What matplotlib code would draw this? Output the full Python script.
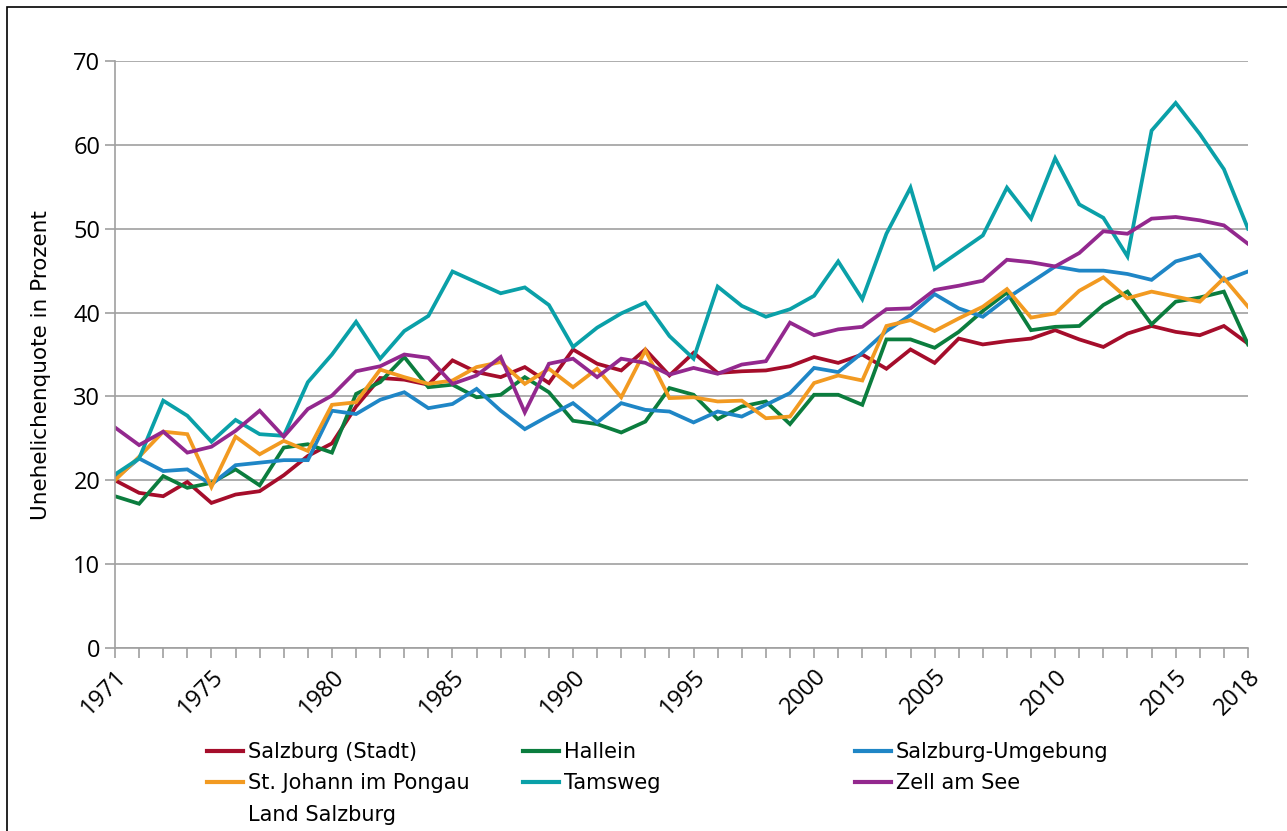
import numpy as np
import matplotlib
matplotlib.use('Agg')
import matplotlib.pyplot as plt
from matplotlib.lines import Line2D
from matplotlib.patches import Rectangle

### data
years = np.arange(1971, 2019)
tick_years = [1971, 1975, 1980, 1985, 1990, 1995, 2000, 2005, 2010, 2015, 2018]

salzburg_stadt = [20.0, 18.5, 18.1, 19.8, 17.3, 18.3, 18.7, 20.6, 22.9, 24.4,
                  28.8, 32.2, 32.0, 31.4, 34.3, 32.9, 32.3, 33.5, 31.6, 35.6,
                  33.9, 33.1, 35.6, 32.5, 35.2, 32.8, 33.0, 33.1, 33.6, 34.7,
                  34.0, 35.0, 33.3, 35.6, 34.0, 36.9, 36.2, 36.6, 36.9, 37.9,
                  36.8, 35.9, 37.5, 38.4, 37.7, 37.3, 38.4, 36.3]
hallein = [18.1, 17.2, 20.5, 19.1, 19.7, 21.3, 19.4, 23.9, 24.3, 23.3,
           30.3, 31.7, 34.7, 31.1, 31.4, 29.9, 30.2, 32.3, 30.5, 27.1,
           26.7, 25.7, 27.0, 31.0, 30.2, 27.3, 28.8, 29.4, 26.7, 30.2,
           30.2, 29.0, 36.8, 36.8, 35.8, 37.7, 40.2, 42.4, 37.9, 38.3,
           38.4, 40.9, 42.5, 38.6, 41.3, 41.8, 42.5, 36.2]
umgebung = [20.2, 22.6, 21.1, 21.3, 19.5, 21.8, 22.1, 22.4, 22.4, 28.3,
            27.9, 29.6, 30.5, 28.6, 29.1, 30.9, 28.3, 26.1, 27.7, 29.2,
            26.9, 29.2, 28.4, 28.2, 26.9, 28.2, 27.6, 29.0, 30.4, 33.4,
            32.9, 35.2, 37.8, 39.7, 42.2, 40.5, 39.5, 41.7, 43.6, 45.5,
            45.0, 45.0, 44.6, 43.9, 46.1, 46.9, 43.8, 44.9]
st_johann = [20.0, 22.8, 25.8, 25.5, 19.2, 25.2, 23.1, 24.7, 23.5, 29.0,
             29.3, 33.2, 32.3, 31.5, 31.9, 33.5, 34.1, 31.5, 33.3, 31.1,
             33.3, 29.9, 35.5, 29.8, 29.9, 29.4, 29.5, 27.4, 27.6, 31.6,
             32.5, 31.9, 38.4, 39.1, 37.8, 39.3, 40.7, 42.8, 39.4, 39.9,
             42.6, 44.2, 41.7, 42.5, 41.9, 41.3, 44.1, 40.7]
tamsweg = [20.7, 22.6, 29.5, 27.7, 24.6, 27.2, 25.5, 25.3, 31.7, 35.0,
           38.9, 34.5, 37.8, 39.6, 44.9, 43.6, 42.3, 43.0, 40.9, 35.9,
           38.2, 39.9, 41.2, 37.2, 34.5, 43.1, 40.8, 39.5, 40.4, 42.0,
           46.1, 41.6, 49.4, 54.9, 45.2, 47.2, 49.2, 54.9, 51.2, 58.4,
           52.9, 51.3, 46.7, 61.7, 65.0, 61.3, 57.1, 50.0]
zell_am_see = [26.3, 24.2, 25.8, 23.3, 24.0, 25.9, 28.3, 25.2, 28.5, 30.1,
               33.0, 33.6, 35.0, 34.6, 31.5, 32.5, 34.7, 28.1, 33.9, 34.5,
               32.3, 34.5, 34.0, 32.6, 33.4, 32.7, 33.8, 34.2, 38.8, 37.3,
               38.0, 38.3, 40.4, 40.5, 42.7, 43.2, 43.8, 46.3, 46.0, 45.5,
               47.1, 49.7, 49.4, 51.2, 51.4, 51.0, 50.4, 48.2]

series = [
    ('Salzburg (Stadt)', salzburg_stadt, '#a50d2b'),
    ('Hallein', hallein, '#0b7d3e'),
    ('Salzburg-Umgebung', umgebung, '#1f86c6'),
    ('St. Johann im Pongau', st_johann, '#f29a21'),
    ('Tamsweg', tamsweg, '#0aa0a8'),
    ('Zell am See', zell_am_see, '#93288e'),
]

plt.rcParams['font.family'] = ['Open Sans', 'DejaVu Sans']

fig = plt.figure(figsize=(12.87, 8.31), dpi=100)
ax = fig.add_axes([115/1287, 1-648/831, (1248-115)/1287, (648-61)/831])

grey = '#a0a0a0'
lines = {}
for name, vals, col in series:
    ln, = ax.plot(years, vals, color=col, lw=2.7, solid_joinstyle='miter', label=name)
    lines[name] = ln

ax.set_xlim(1971, 2018)
ax.set_ylim(0, 70)
ax.set_yticks(range(0, 71, 10))
ax.set_xticks(years)
ax.set_xticklabels([str(y) if y in tick_years else '' for y in years],
                   rotation=45, ha='right', va='top', rotation_mode='anchor')
ax.yaxis.grid(True, color=grey, lw=1.2)
ax.set_axisbelow(True)
for s in ['top', 'right']:
    ax.spines[s].set_visible(False)
for s in ['left', 'bottom']:
    ax.spines[s].set_color(grey)
    ax.spines[s].set_linewidth(1.2)
ax.tick_params(axis='both', colors=grey, labelcolor='black', labelsize=17,
               length=7, width=1.2, direction='out')
ax.tick_params(axis='x', pad=5)
ax.set_ylabel('Unehelichenquote in Prozent', fontsize=15.5, family='DejaVu Sans')
ax.yaxis.set_label_coords(-0.0565, 0.482)

### legend in three fixed columns like the original
land = Line2D([], [], color='none', lw=3)
cols = [
    (207, [lines['Salzburg (Stadt)'], lines['St. Johann im Pongau'], land],
     ['Salzburg (Stadt)', 'St. Johann im Pongau', 'Land Salzburg']),
    (523, [lines['Hallein'], lines['Tamsweg']], ['Hallein', 'Tamsweg']),
    (855, [lines['Salzburg-Umgebung'], lines['Zell am See']], ['Salzburg-Umgebung', 'Zell am See']),
]
for x0, hs, ls in cols:
    leg = fig.legend(hs, ls, loc='upper left', bbox_to_anchor=(x0/1287, 1-742/831),
                     frameon=False, prop={'family': 'DejaVu Sans', 'size': 15},
                     handlelength=1.75, handletextpad=0.2, labelspacing=0.55,
                     borderpad=0, borderaxespad=0)
    for h in leg.legend_handles:
        h.set_linewidth(3)

fig.patches.append(Rectangle((7/1287, -0.05), 1.1, 1.05 - 7/831, transform=fig.transFigure,
                             fill=False, edgecolor='black', lw=1.2, clip_on=False))

fig.savefig('out.png', dpi=100)
